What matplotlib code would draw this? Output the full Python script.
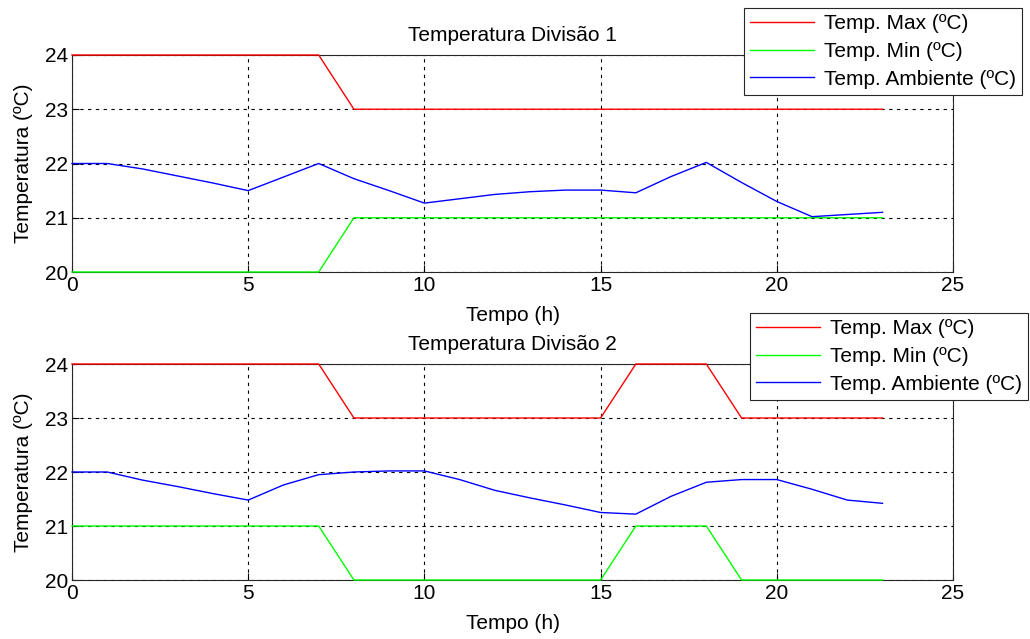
import matplotlib
matplotlib.use("Agg")
import matplotlib.pyplot as plt

plt.rcParams['font.family'] = ['Liberation Sans', 'DejaVu Sans']

horas = list(range(24))

# Divisão 1
max_div1 = [24] * 8 + [23] * 16
min_div1 = [20] * 8 + [21] * 16
amb_div1 = [22.0, 22.0, 21.9, 21.77, 21.64, 21.5, 21.75, 22.0, 21.72, 21.5,
            21.27, 21.35, 21.43, 21.48, 21.51, 21.51, 21.46, 21.76, 22.02, 21.65,
            21.3, 21.02, 21.06, 21.1]

# Divisão 2
max_div2 = [24] * 8 + [23] * 8 + [24] * 3 + [23] * 5
min_div2 = [21] * 8 + [20] * 8 + [21] * 3 + [20] * 5
amb_div2 = [22.0, 22.0, 21.85, 21.73, 21.6, 21.48, 21.76, 21.95, 22.0, 22.02,
            22.02, 21.86, 21.66, 21.52, 21.39, 21.25, 21.22, 21.55, 21.81, 21.86,
            21.86, 21.68, 21.48, 21.42]

divisoes = [
    ("Temperatura Divisão 1", max_div1, min_div1, amb_div1),
    ("Temperatura Divisão 2", max_div2, min_div2, amb_div2),
]

fig = plt.figure(figsize=(10.3, 6.39), dpi=100)
W, H = 1030, 639
# axes boxes in pixels: left, top, right, bottom
caixas = [(72, 55, 953, 272), (72, 364, 953, 580)]
legendas = [(1022, 8), (1028, 313)]

fs = 15
for (titulo, tmax, tmin, tamb), (l, t, r, b), (lx, ly) in zip(divisoes, caixas, legendas):
    ax = fig.add_axes([l / W, 1 - b / H, (r - l) / W, (b - t) / H])
    kw = dict(lw=1.0, clip_on=False, zorder=3)
    ax.plot(horas, tmax, color='#ff0000', label='Temp. Max (ºC)', **kw)
    ax.plot(horas, tmin, color='#00ff00', label='Temp. Min (ºC)', **kw)
    ax.plot(horas, tamb, color='#0000ff', label='Temp. Ambiente (ºC)', **kw)
    ax.set_xlim(0, 25)
    ax.set_ylim(20, 24)
    ax.set_xticks(range(0, 26, 5))
    ax.set_yticks(range(20, 25))
    ax.grid(True, color='black', linestyle=(0, (3, 4)), lw=0.8)
    ax.set_axisbelow(True)
    ax.tick_params(direction='in', labelsize=fs, length=5, top=False, right=False,
                   pad=3)
    for s in ax.spines.values():
        s.set_color('#262626')
        s.set_linewidth(0.8)
    ax.set_title(titulo, fontsize=fs, pad=10)
    ax.set_xlabel('Tempo (h)', fontsize=fs, labelpad=8)
    ax.set_ylabel('Temperatura (ºC)', fontsize=fs, labelpad=8)
    leg = ax.legend(loc='upper right', bbox_to_anchor=(lx / W, 1 - ly / H),
                    bbox_transform=fig.transFigure, fontsize=fs, fancybox=False,
                    framealpha=1, edgecolor='#262626', handlelength=3.1,
                    labelspacing=0.42, borderpad=0.3, handletextpad=0.45,
                    borderaxespad=0)
    leg.get_frame().set_linewidth(0.8)
    leg.set_zorder(5)

fig.savefig('out.png', dpi=100)
